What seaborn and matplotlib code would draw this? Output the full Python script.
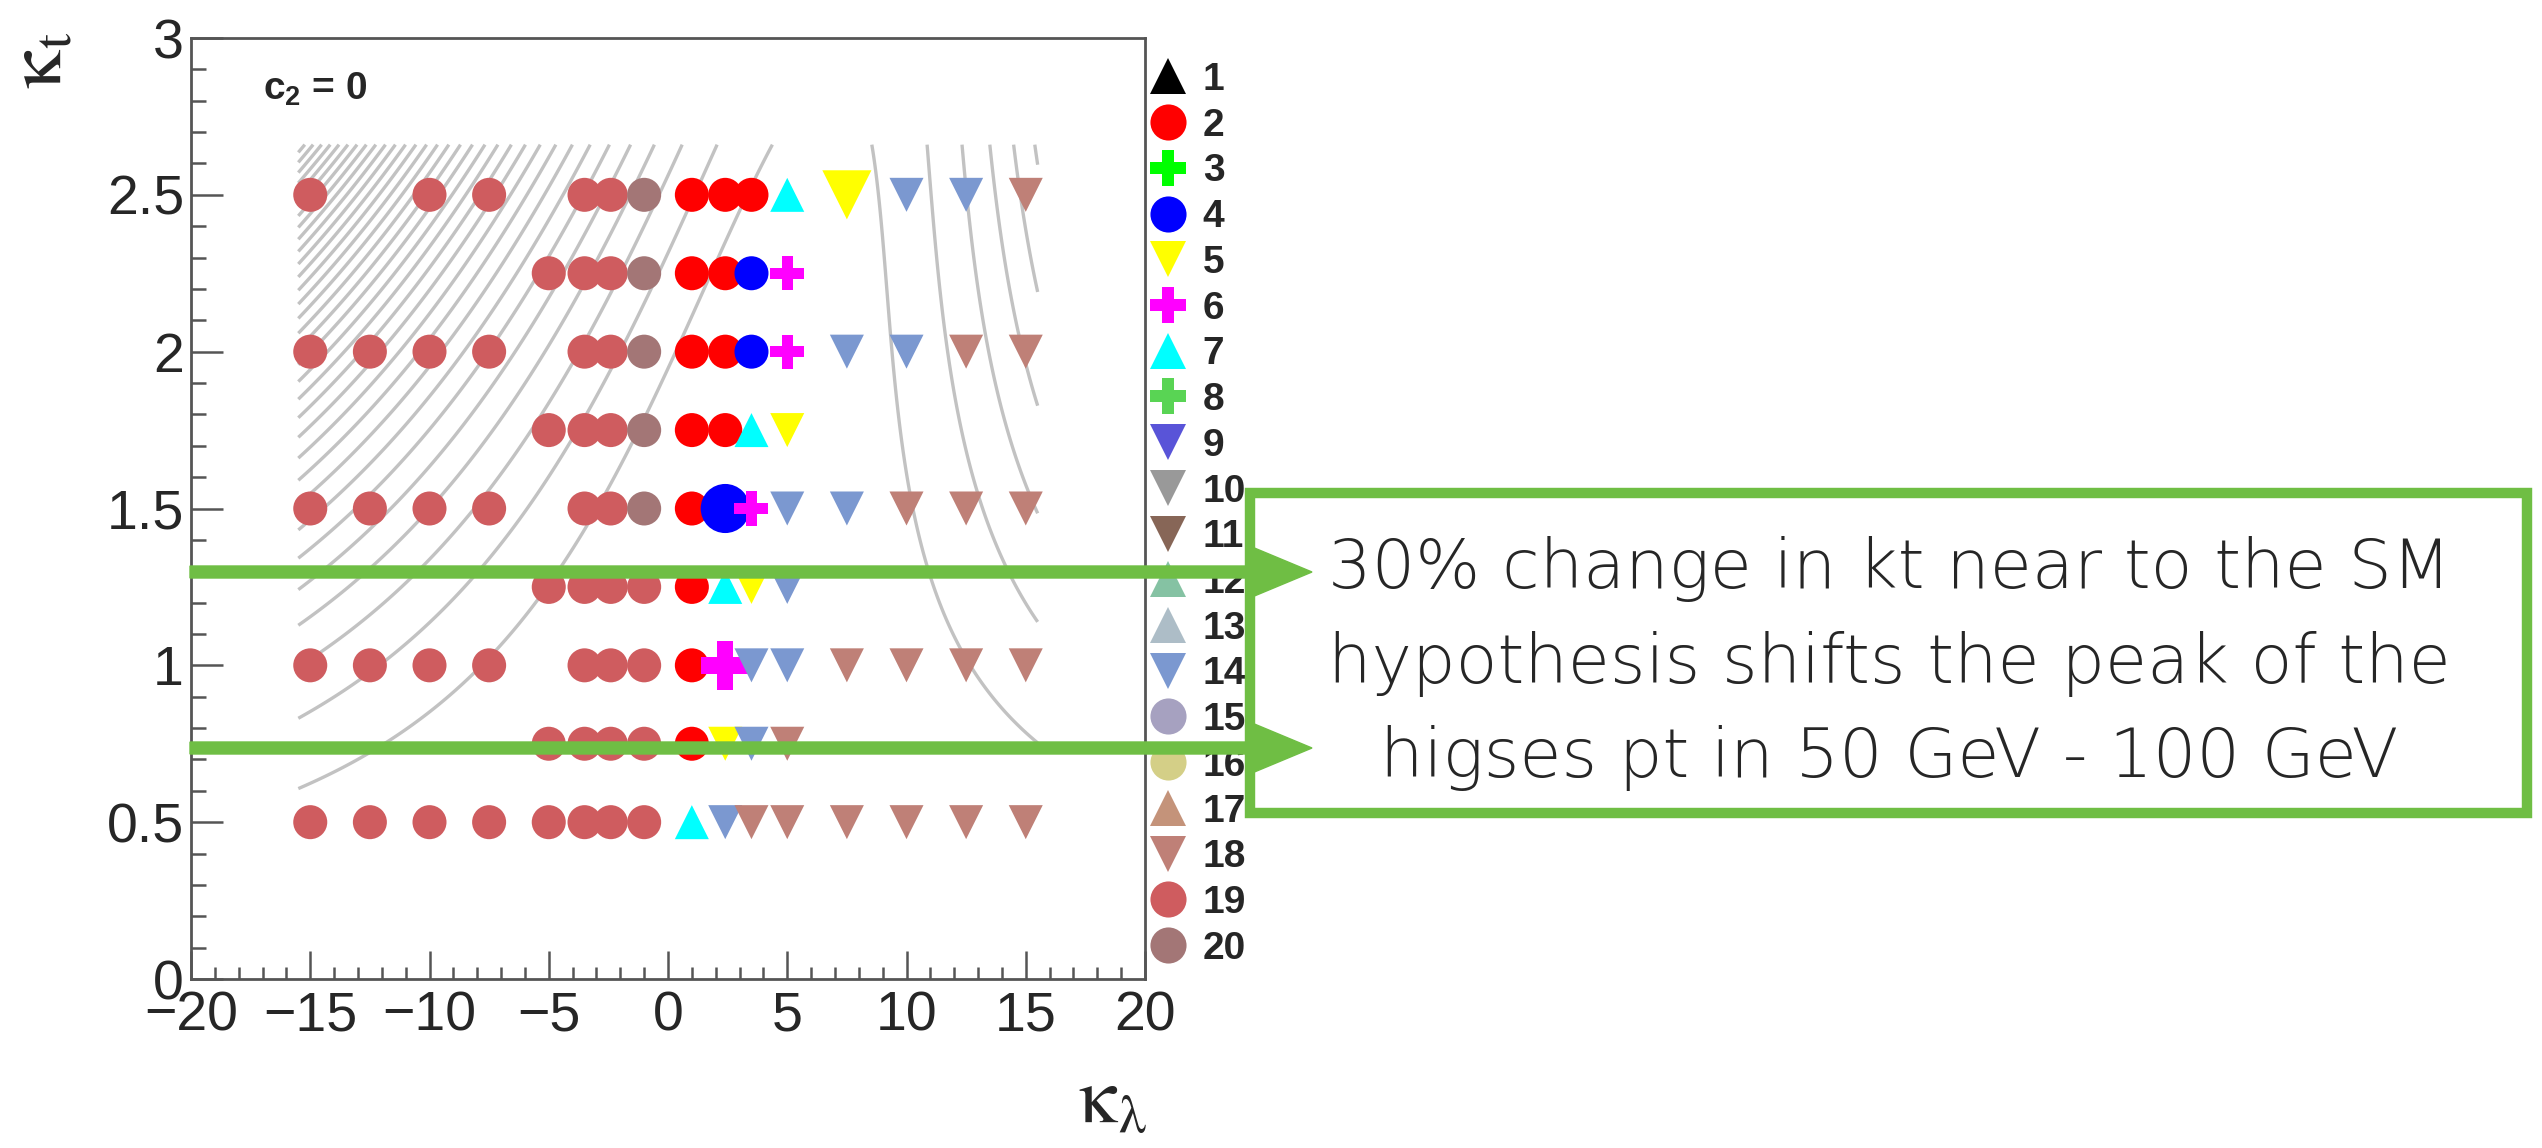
import numpy as np
import pandas as pd
import matplotlib
matplotlib.use("Agg")
import matplotlib.pyplot as plt
from matplotlib import font_manager
from matplotlib.lines import Line2D
from matplotlib.patches import FancyArrow, Rectangle
from matplotlib.ticker import MultipleLocator
import seaborn as sns

# ---------------------------------------------------------------------------
# Scan points on the (kappa_lambda, kappa_t) plane for the c2 = 0 slice.
# Each kappa_t row lists its kappa_lambda values and the cluster of each point.
# ---------------------------------------------------------------------------
kt_250_kl = [-15, -10, -7.5, -3.5, -2.4, -1, 1, 2.4, 3.5, 5, 7.5, 10, 12.5, 15]
kt_250_cl = [19, 19, 19, 19, 19, 20, 2, 2, 2, 7, 5, 14, 14, 18]
kt_225_kl = [-5, -3.5, -2.4, -1, 1, 2.4, 3.5, 5]
kt_225_cl = [19, 19, 19, 20, 2, 2, 4, 6]
kt_200_kl = [-15, -12.5, -10, -7.5, -3.5, -2.4, -1, 1, 2.4, 3.5, 5, 7.5, 10, 12.5, 15]
kt_200_cl = [19, 19, 19, 19, 19, 19, 20, 2, 2, 4, 6, 14, 14, 18, 18]
kt_175_kl = [-5, -3.5, -2.4, -1, 1, 2.4, 3.5, 5]
kt_175_cl = [19, 19, 19, 20, 2, 2, 7, 5]
kt_150_kl = [-15, -12.5, -10, -7.5, -3.5, -2.4, -1, 1, 2.4, 3.5, 5, 7.5, 10, 12.5, 15]
kt_150_cl = [19, 19, 19, 19, 19, 19, 20, 2, 4, 6, 14, 14, 18, 18, 18]
kt_125_kl = [-5, -3.5, -2.4, -1, 1, 2.4, 3.5, 5]
kt_125_cl = [19, 19, 19, 19, 2, 7, 5, 14]
kt_100_kl = [-15, -12.5, -10, -7.5, -3.5, -2.4, -1, 1, 2.4, 3.5, 5, 7.5, 10, 12.5, 15]
kt_100_cl = [19, 19, 19, 19, 19, 19, 19, 2, 6, 14, 14, 18, 18, 18, 18]
kt_075_kl = [-5, -3.5, -2.4, -1, 1, 2.4, 3.5, 5]
kt_075_cl = [19, 19, 19, 19, 2, 5, 14, 18]
kt_050_kl = [-15, -12.5, -10, -7.5, -5, -3.5, -2.4, -1, 1, 2.4, 3.5, 5, 7.5, 10, 12.5, 15]
kt_050_cl = [19, 19, 19, 19, 19, 19, 19, 19, 7, 14, 18, 18, 18, 18, 18, 18]

kt_rows = [2.5, 2.25, 2.0, 1.75, 1.5, 1.25, 1.0, 0.75, 0.5]
kl_rows = [kt_250_kl, kt_225_kl, kt_200_kl, kt_175_kl, kt_150_kl,
           kt_125_kl, kt_100_kl, kt_075_kl, kt_050_kl]
cl_rows = [kt_250_cl, kt_225_cl, kt_200_cl, kt_175_cl, kt_150_cl,
           kt_125_cl, kt_100_cl, kt_075_cl, kt_050_cl]

# cluster benchmark points (drawn with a larger marker)
bench_kl = [7.5, 2.4, 2.4]
bench_kt = [2.5, 1.5, 1.0]

# cluster styles (legend entries 1..20)
cluster_ids = list(range(1, 21))
cluster_markers = ['^', 'o', 'P', 'o', 'v', 'P', '^', 'P', 'v', 'v',
                   'v', '^', '^', 'v', 'o', 'o', '^', 'v', 'o', 'o']
cluster_colors = ['#000000', '#ff0000', '#00ff00', '#0000ff', '#ffff00',
                  '#ff00ff', '#00ffff', '#59d454', '#5954d8', '#999999',
                  '#876657', '#85c2a3', '#adbdc7', '#7b98d0', '#a6a1c0',
                  '#d4cf87', '#c4937a', '#bf8077', '#cf5c5f', '#a37676']

# iso-lines of sigma(HH)/sigma_SM for c2 = cg = c2g = 0:
# R = A1 kt^4 + A3 kt^2 kl^2 + A7 kt^3 kl
A1, A3, A7 = 2.09, 0.282, -1.37
iso_levels = list(range(30, 1000, 30))
iso_kl_range = (-15.5, 15.5)
iso_kt_range = (0.3, 2.66)

xtick_vals = [-20, -15, -10, -5, 0, 5, 10, 15, 20]
xtick_labels = ['\u221220', '\u221215', '\u221210', '\u22125', '0', '5', '10', '15', '20']
ytick_vals = [0, 0.5, 1, 1.5, 2, 2.5, 3]
ytick_labels = ['0', '0.5', '1', '1.5', '2', '2.5', '3']

note_lines = ["30% change in kt near to the SM",
              "hypothesis shifts the peak of the",
              "higses pt in 50 GeV - 100 GeV"]

# ---------------------------------------------------------------------------
records = []
for kt, kls, cls in zip(kt_rows, kl_rows, cl_rows):
    for kl, cl in zip(kls, cls):
        is_bench = any(abs(kl - bk) < 1e-9 and abs(kt - bt) < 1e-9
                       for bk, bt in zip(bench_kl, bench_kt))
        records.append({"kl": kl, "kt": kt, "cluster": str(cl),
                        "kind": "benchmark" if is_bench else "point"})
df = pd.DataFrame(records)

palette = {str(c): col for c, col in zip(cluster_ids, cluster_colors)}
markers = {str(c): m for c, m in zip(cluster_ids, cluster_markers)}

sns.set_style("white")
plt.rcParams["font.family"] = ["Liberation Sans", "DejaVu Sans"]
plt.rcParams["mathtext.fontset"] = "custom"
plt.rcParams["mathtext.rm"] = "Liberation Sans"
plt.rcParams["mathtext.bf"] = "Liberation Sans:bold"

W, H, DPI = 2542, 1148, 100
fig = plt.figure(figsize=(W / DPI, H / DPI), dpi=DPI)
fig.patch.set_facecolor("white")
ax = fig.add_axes([191 / W, 1 - 979 / H, (1145 - 191) / W, (979 - 38) / H])

# iso-lines
gkl = np.linspace(*iso_kl_range, 700)
gkt = np.linspace(*iso_kt_range, 500)
KL, KT = np.meshgrid(gkl, gkt)
R = A1 * KT**4 + A3 * KT**2 * KL**2 + A7 * KT**3 * KL
ax.contour(KL, KT, R, levels=iso_levels, colors="#c2c2c2",
           linewidths=2.4, zorder=1)

sns.scatterplot(data=df, x="kl", y="kt", hue="cluster", style="cluster",
                size="kind", sizes={"point": 600, "benchmark": 1250},
                palette=palette, markers=markers, linewidth=0,
                legend=False, ax=ax, zorder=3)

ax.set_xlim(-20, 20)
ax.set_ylim(0, 3)
ax.set_xlabel("")
ax.set_ylabel("")
ax.set_xticks(xtick_vals)
ax.set_xticklabels(xtick_labels)
ax.set_yticks(ytick_vals)
ax.set_yticklabels(ytick_labels)
ax.xaxis.set_minor_locator(MultipleLocator(1))
ax.yaxis.set_minor_locator(MultipleLocator(0.1))
ax.tick_params(axis="both", which="both", direction="in", top=False,
               right=False, bottom=True, left=True, color="#555555",
               width=1.8)
ax.tick_params(axis="x", which="major", length=20, pad=8, labelsize=40)
ax.tick_params(axis="x", which="minor", length=9)
ax.tick_params(axis="y", which="major", length=23, pad=5, labelsize=40)
ax.tick_params(axis="y", which="minor", length=11)
for sp in ax.spines.values():
    sp.set_color("#555555")
    sp.set_linewidth(2.0)

# axis titles
fig.text(1147 / W, 1 - 1122 / H, r"$\mathrm{\kappa_{\lambda}}$", ha="right",
         va="baseline", fontsize=56, math_fontfamily="stix")
fig.text(40 / W, 1 - 32 / H, r"$\mathrm{\kappa_{t}}$", rotation=90,
         ha="center", va="top", fontsize=56, math_fontfamily="stix")
fig.text(263 / W, 1 - 100 / H, r"$\mathbf{c_{2}}$ = 0", ha="left",
         va="baseline", fontsize=28, fontweight="bold")

# cluster legend
handles = [Line2D([], [], linestyle="none", marker=m, markersize=26,
                  markerfacecolor=c, markeredgewidth=0, color=c)
           for m, c in zip(cluster_markers, cluster_colors)]
fig.legend(handles, [str(c) for c in cluster_ids], loc="upper left",
           bbox_to_anchor=(1149 / W, 1 - 62 / H), frameon=False,
           prop={"family": "Liberation Sans", "weight": "bold", "size": 28},
           handlelength=1.0, handletextpad=0.38, labelspacing=0.25,
           borderpad=0, borderaxespad=0, numpoints=1)

# annotation box with arrows
green = "#6fbe44"
box = Rectangle((1250 / DPI, (H - 813) / DPI), (2527 - 1250) / DPI,
                (813 - 493) / DPI, transform=fig.dpi_scale_trans,
                facecolor="white", edgecolor=green, linewidth=7.5, zorder=8)
fig.add_artist(box)
for y_px in (572, 748):
    arr = FancyArrow(190 / DPI, (H - y_px) / DPI, (1312 - 190) / DPI, 0,
                     width=0.12, head_width=0.50, head_length=0.60,
                     length_includes_head=True, color=green,
                     transform=fig.dpi_scale_trans, zorder=10)
    fig.add_artist(arr)


def pick_light_family():
    entries = font_manager.fontManager.ttflist
    for fam, wmax in (("DejaVu Sans", 250), ("Open Sans", 300),
                      ("Roboto", 300), ("Lato", 300), ("Inter", 300)):
        for e in entries:
            w = e.weight if isinstance(e.weight, int) else 400
            if e.name == fam and w <= wmax and "Italic" not in e.style.title():
                return fam, w
    return "DejaVu Sans", 400


fam, wt = pick_light_family()
baselines = [588, 683, 777]
texts = [fig.text(1889 / W, 1 - b / H, s, ha="center", va="baseline",
                  fontsize=48, family=fam, fontweight=wt, zorder=9)
         for s, b in zip(note_lines, baselines)]
fig.canvas.draw()
rend = fig.canvas.get_renderer()
w0 = texts[0].get_window_extent(renderer=rend).width
scale = 1122.0 / w0
for t in texts:
    t.set_fontsize(48 * scale)

fig.savefig("out.png", dpi=DPI, facecolor="white")
